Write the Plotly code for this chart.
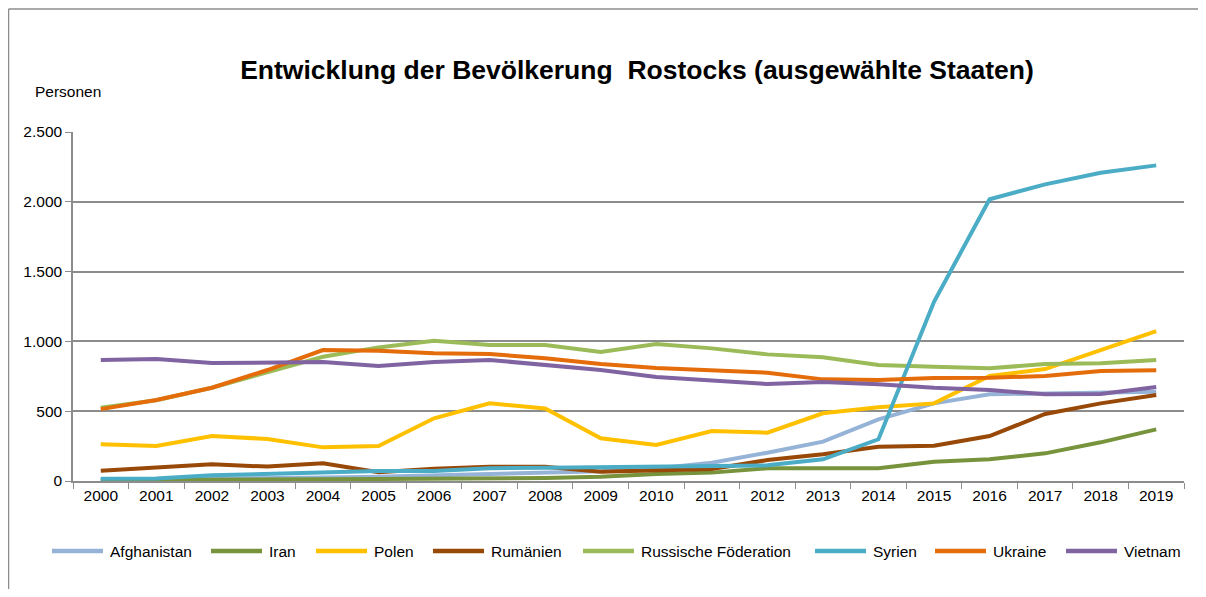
import plotly.graph_objects as go

years = [str(y) for y in range(2000, 2020)]

afghanistan = [10, 12, 15, 20, 25, 30, 40, 50, 60, 70, 90, 131, 203, 282, 442, 556, 621, 628, 633, 640]
iran = [5, 5, 8, 10, 12, 15, 15, 17, 21, 31, 50, 60, 91, 91, 91, 138, 155, 198, 277, 370]
polen = [263, 251, 322, 301, 241, 251, 449, 556, 520, 306, 258, 358, 346, 485, 528, 556, 752, 802, 938, 1074]
rumaenien = [74, 95, 120, 103, 127, 62, 88, 102, 102, 67, 79, 86, 150, 191, 246, 253, 322, 480, 556, 616]
russland = [525, 578, 668, 780, 890, 957, 1005, 974, 974, 924, 981, 950, 907, 886, 831, 819, 807, 838, 843, 867]
syrien = [17, 18, 41, 50, 62, 72, 72, 91, 95, 100, 107, 112, 112, 155, 299, 1284, 2018, 2125, 2208, 2261]
ukraine = [515, 580, 668, 795, 938, 933, 915, 910, 879, 838, 809, 795, 776, 728, 723, 738, 740, 752, 788, 793]
vietnam = [867, 874, 845, 852, 852, 824, 852, 867, 831, 795, 745, 723, 695, 709, 693, 668, 652, 621, 623, 674]

names = ["Afghanistan", "Iran", "Polen", "Rumänien", "Russische Föderation", "Syrien", "Ukraine", "Vietnam"]
values = [afghanistan, iran, polen, rumaenien, russland, syrien, ukraine, vietnam]
colors = ["#95B3D7", "#77933C", "#FFC000", "#984807", "#9BBB59", "#4BACC6", "#E46C0A", "#8064A2"]

# layout geometry (figure pixel coordinates; page has an 8px body margin)
W, H = 1190, 581
L, R, T, B = 65, 14, 124, 108
PW, PH = W - L - R, H - T - B
def px(x):
    return (x - L) / PW
def py(y):
    return (H - B - y) / PH

legend_line_x = [42, 201, 306, 423, 573, 805, 925, 1056]   # start of each legend key line
legend_y = 543
key_len = 55

fig = go.Figure()
for name, vals, col in zip(names, values, colors):
    fig.add_trace(go.Scatter(x=years, y=vals, name=name, mode="lines",
                             line=dict(color=col, width=4), showlegend=False))

grid = "#8C8C8C"
font_fam = "Liberation Sans, Arial, sans-serif"

frame = dict(color="#8C8C8C", width=1.5)
shapes = [
    dict(type="line", xref="paper", yref="paper", x0=px(0.5), x1=px(0.5),
         y0=py(H), y1=py(1), line=frame, layer="below"),
    dict(type="line", xref="paper", yref="paper", x0=px(0.5), x1=px(W),
         y0=py(1), y1=py(1), line=frame, layer="below"),
]
annotations = [dict(text="Personen", xref="paper", yref="paper", x=px(25), y=py(83),
                    xanchor="left", yanchor="middle", showarrow=False,
                    font=dict(size=15.5, family=font_fam, color="#000"))]
for name, col, lx in zip(names, colors, legend_line_x):
    shapes.append(dict(type="line", xref="paper", yref="paper",
                       x0=px(lx + 2), x1=px(lx + key_len - 2), y0=py(legend_y), y1=py(legend_y),
                       line=dict(color=col, width=4.5)))
    annotations.append(dict(text=name, xref="paper", yref="paper", x=px(lx + key_len + 3),
                            y=py(legend_y), xanchor="left", yanchor="middle", showarrow=False,
                            font=dict(size=15.5, family=font_fam, color="#000")))

fig.update_layout(
    width=W, height=H,
    paper_bgcolor="white", plot_bgcolor="white",
    font=dict(family=font_fam, size=15, color="#000"),
    margin=dict(l=L, r=R, t=T, b=B, autoexpand=False),
    title=dict(text="<b>Entwicklung der Bevölkerung  Rostocks (ausgewählte Staaten)</b>",
               xref="container", yref="container",
               x=629 / W, xanchor="center", y=1 - 62 / H, yanchor="middle",
               font=dict(size=26.5, color="#000")),
    showlegend=False,
    xaxis=dict(type="category", tickson="boundaries", ticks="outside", ticklen=6,
               range=[-0.5, 19.5],
               tickcolor=grid, showline=True, linecolor=grid, linewidth=1.5,
               showgrid=False, tickfont=dict(size=15.5)),
    yaxis=dict(range=[0, 2500], dtick=500, tickformat=",d", ticks="outside", ticklen=6,
               tickcolor=grid, showline=True, linecolor=grid, linewidth=1.5,
               gridcolor=grid, gridwidth=1.5, tickfont=dict(size=15.5), zeroline=False),
    separators=",.",
    annotations=annotations,
    shapes=shapes,
)

fig.write_html("out.html")
